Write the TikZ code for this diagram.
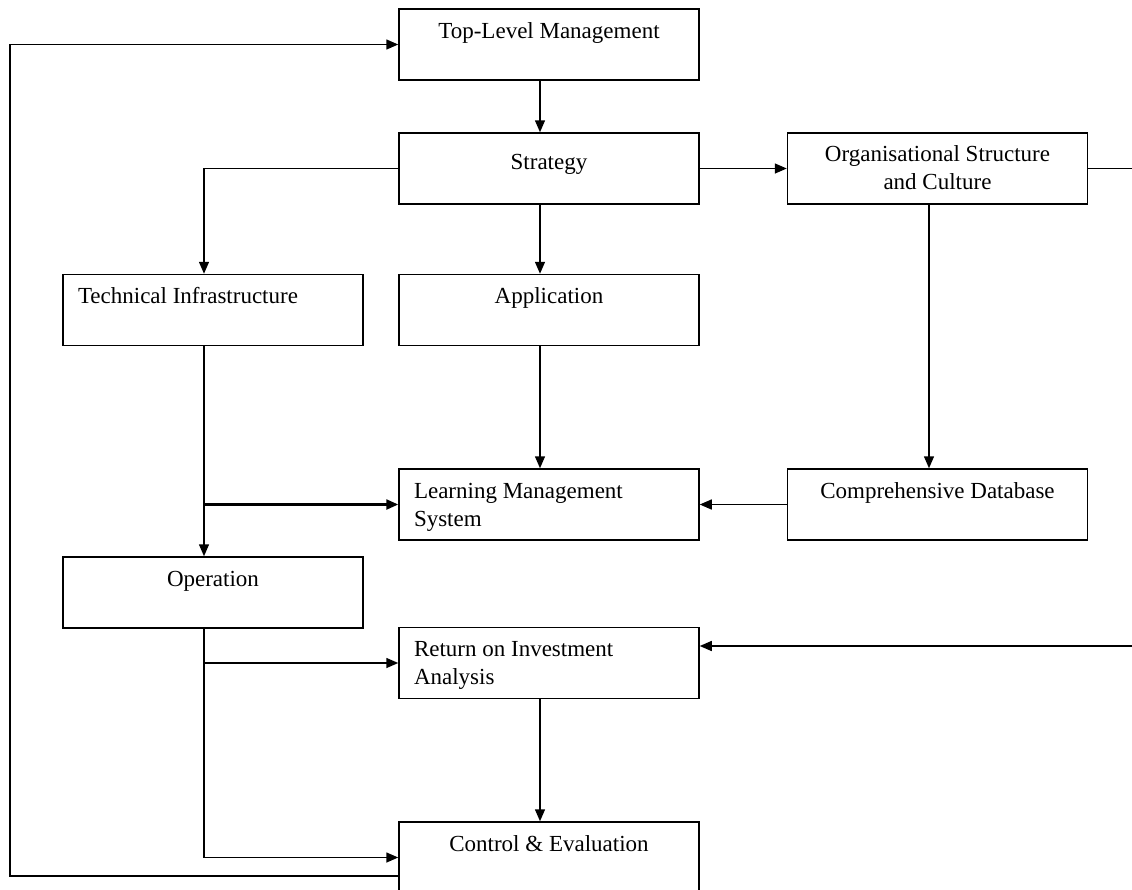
\documentclass[tikz,border=0pt]{standalone}
\usepackage{fontspec}
\setmainfont{Liberation Serif}
\usetikzlibrary{arrows.meta}

% box text: top aligned, first baseline about 14.5pt below the top edge
\newcommand{\boxtxt}[3][4.7pt]{\parbox[c][35.5pt][t]{135pt}{#2\vspace*{#1}\strut #3}}

\tikzset{
  blk/.style={draw, line width=0.75pt, minimum width=150pt, minimum height=35.5pt,
    inner xsep=7.5pt, inner ysep=0pt, font=\fontsize{11.5}{14}\selectfont},
  arr/.style={line width=0.75pt, -{Triangle[length=6pt,width=5pt]}}
}

\begin{document}
\begin{tikzpicture}[x=0.5pt,y=0.5pt,yscale=-1,xscale=1]
\useasboundingbox (0,0) rectangle (1132,890);
\clip (0,0) rectangle (1132,890);

%Shape: Rectangle
\node[blk] (tlm) at (549,44.5) {\boxtxt{\centering}{Top-Level Management}};
\node[blk] (strat) at (549,168.5) {\boxtxt[8.2pt]{\centering}{Strategy}};
\node[blk] (org) at (937.5,168.5) {\boxtxt[4.2pt]{\centering}{Organisational Structure\\ and Culture}};
\node[blk] (tech) at (213,310) {\boxtxt{\raggedright}{Technical Infrastructure}};
\node[blk] (app) at (549,310) {\boxtxt{\centering}{Application}};
\node[blk] (lms) at (549,504.5) {\boxtxt{\raggedright}{Learning Management\\ System}};
\node[blk] (cdb) at (937.5,504.5) {\boxtxt{\centering}{Comprehensive Database}};
\node[blk] (oper) at (213,592.5) {\boxtxt{\centering}{Operation}};
\node[blk] (roi) at (549,663) {\boxtxt{\raggedright}{Return on Investment\\ Analysis}};
\node[blk] (ctrl) at (549,857.5) {\boxtxt{\centering}{Control \& Evaluation}};

%Straight Lines
\draw[arr] ([xshift=-4.5pt]tlm.south) -- ([xshift=-4.5pt]strat.north);
\draw[arr] (strat.west) -| ([xshift=-4.5pt]tech.north);
\draw[arr] ([xshift=-4.5pt]strat.south) -- ([xshift=-4.5pt]app.north);
\draw[arr] (strat.east) -- (org.west);
\draw[arr] (org.east) -- ++(70,0) |- ([yshift=-8.5pt]roi.east);
\draw[arr] ([xshift=-4.25pt]org.south) -- ([xshift=-4.25pt]cdb.north);
\draw[arr] ([xshift=-4.5pt]app.south) -- ([xshift=-4.5pt]lms.north);
\draw[arr] (cdb.west) -- (lms.east);
\draw[arr] ([xshift=-4.5pt]tech.south) -- ([xshift=-4.5pt]oper.north);
\coordinate (jlms) at ([xshift=-4.5pt]tech.south |- lms.west);
\draw[arr, line width=1.2pt] (jlms) -- (lms.west);
\draw[arr] ([xshift=-4.5pt]oper.south) |- (ctrl.west);
\coordinate (jroi) at ([xshift=-4.5pt]oper.south |- roi.west);
\draw[arr] (jroi) -- (roi.west);
\draw[arr] ([xshift=-4.5pt]roi.south) -- ([xshift=-4.5pt]ctrl.north);
\draw[arr] ([yshift=9.25pt]ctrl.west) -- (10,876) |- (tlm.west);
\end{tikzpicture}
\end{document}
